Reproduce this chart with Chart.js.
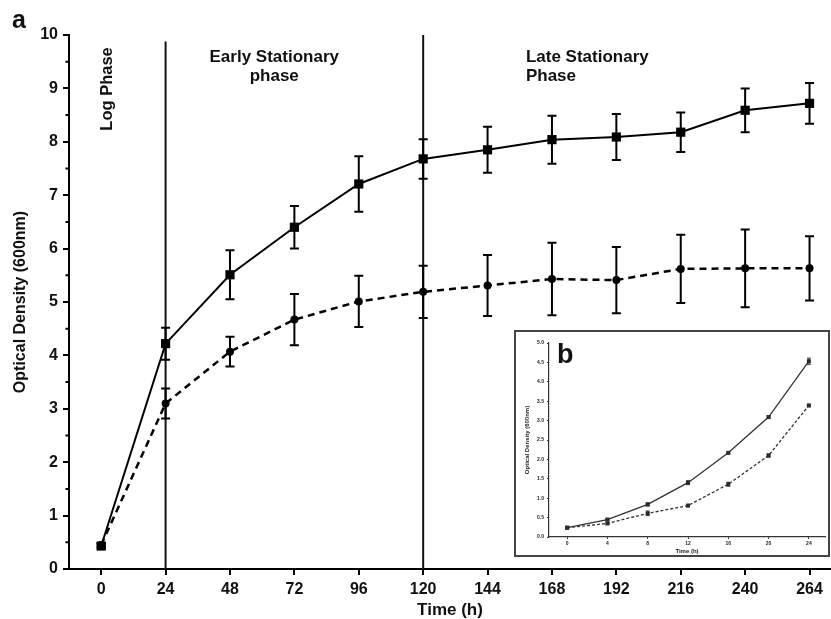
<!DOCTYPE html>
<html>
<head>
<meta charset="utf-8">
<script src="https://cdn.jsdelivr.net/npm/chart.js@4.4.1/dist/chart.umd.min.js"></script>
<style>
  html, body { margin: 0; padding: 0; background: #fff; }
  #wrap { position: relative; width: 831px; height: 619px; }
  #inset { position: absolute; left: 514px; top: 330px; width: 312px; height: 223px;
           border: 2px solid #444; background: #fff; }
  canvas { display: block; }
</style>
</head>
<body>
<div id="wrap">
  <canvas id="mainChart" width="831" height="619"></canvas>
  <div id="inset"><canvas id="insetChart" width="312" height="223"></canvas></div>
</div>
<script>
// main panel (a)
var hours = [0, 24, 48, 72, 96, 120, 144, 168, 192, 216, 240, 264];
var solidOD = [0.43, 4.22, 5.51, 6.40, 7.21, 7.68, 7.85, 8.04, 8.09, 8.18, 8.59, 8.72];
var solidErr = [0.04, 0.30, 0.46, 0.40, 0.52, 0.37, 0.43, 0.45, 0.43, 0.37, 0.41, 0.38];
var dashedOD = [0.45, 3.10, 4.07, 4.67, 5.01, 5.19, 5.31, 5.43, 5.41, 5.62, 5.63, 5.63];
var dashedErr = [0.03, 0.28, 0.28, 0.48, 0.48, 0.49, 0.57, 0.68, 0.62, 0.64, 0.73, 0.60];
var phaseLines = [24, 120];
var phaseTops = [9.88, 10];
var xTicks = [0, 24, 48, 72, 96, 120, 144, 168, 192, 216, 240, 264];
var yTicks = [0, 1, 2, 3, 4, 5, 6, 7, 8, 9, 10];

// inset panel (b)
var insetHours = [0, 4, 8, 12, 16, 20, 24];
var insetSolid = [0.24, 0.45, 0.84, 1.40, 2.17, 3.09, 4.53];
var insetSolidErr = [0.02, 0.03, 0.04, 0.05, 0.03, 0.03, 0.08];
var insetDashed = [0.24, 0.35, 0.61, 0.81, 1.36, 2.10, 3.39];
var insetDashedErr = [0.02, 0.03, 0.06, 0.03, 0.05, 0.04, 0.03];
var insetXTicks = [0, 4, 8, 12, 16, 20, 24];
var insetYTicks = [0, 0.5, 1, 1.5, 2, 2.5, 3, 3.5, 4, 4.5, 5];

var FONT = "'Liberation Sans', Arial, sans-serif";

function pts(xs, ys) {
    return xs.map(function (x, i) { return { x: x, y: ys[i] }; });
}

var errorBars = {
    id: 'errorBars',
    afterDatasetsDraw: function (chart) {
        var ctx = chart.ctx, sx = chart.scales.x, sy = chart.scales.y;
        chart.data.datasets.forEach(function (ds) {
            if (!ds.errors) return;
            var c = ds.capWidth / 2;
            ctx.save();
            ctx.strokeStyle = ds.borderColor;
            ctx.lineWidth = ds.errorWidth;
            ctx.beginPath();
            ds.data.forEach(function (p, j) {
                var e = ds.errors[j];
                var px = sx.getPixelForValue(p.x);
                var top = sy.getPixelForValue(p.y + e);
                var bot = sy.getPixelForValue(p.y - e);
                ctx.moveTo(px, top); ctx.lineTo(px, bot);
                ctx.moveTo(px - c, top); ctx.lineTo(px + c, top);
                ctx.moveTo(px - c, bot); ctx.lineTo(px + c, bot);
            });
            ctx.stroke();
            ctx.restore();
        });
    }
};

var minorTicks = {
    id: 'minorTicks',
    afterDraw: function (chart, args, opts) {
        if (!opts.step) return;
        var sy = chart.scales.y, ctx = chart.ctx;
        ctx.save();
        ctx.strokeStyle = opts.color;
        ctx.lineWidth = opts.width;
        ctx.beginPath();
        for (var v = sy.min + opts.step; v < sy.max; v += opts.step * 2) {
            var py = sy.getPixelForValue(v);
            ctx.moveTo(sy.right - opts.length, py);
            ctx.lineTo(sy.right, py);
        }
        ctx.stroke();
        ctx.restore();
    }
};

var textLabels = {
    id: 'textLabels',
    afterDraw: function (chart, args, opts) {
        var ctx = chart.ctx, sx = chart.scales.x, sy = chart.scales.y;
        (opts.items || []).forEach(function (it) {
            ctx.save();
            ctx.fillStyle = '#111';
            ctx.font = it.font;
            ctx.textAlign = it.align || 'left';
            ctx.textBaseline = it.baseline || 'alphabetic';
            var px = it.px != null ? it.px : sx.getPixelForValue(it.x);
            var py = it.py != null ? it.py : sy.getPixelForValue(it.y);
            ctx.translate(px, py);
            if (it.rotate) ctx.rotate(it.rotate);
            ctx.fillText(it.text, 0, 0);
            ctx.restore();
        });
    }
};

var mainDatasets = [
    {
        data: pts(hours, solidOD),
        errors: solidErr, capWidth: 9, errorWidth: 2,
        borderColor: '#000', backgroundColor: '#000', borderWidth: 2,
        pointStyle: 'rect', pointRadius: 6.5, pointBorderWidth: 0
    },
    {
        data: pts(hours, dashedOD),
        errors: dashedErr, capWidth: 9, errorWidth: 2,
        borderColor: '#000', backgroundColor: '#000', borderWidth: 2.5,
        borderDash: [7, 5],
        pointStyle: 'circle', pointRadius: 4, pointBorderWidth: 0
    }
];
phaseLines.forEach(function (h, i) {
    mainDatasets.push({
        data: [{ x: h, y: 0 }, { x: h, y: phaseTops[i] }],
        borderColor: '#111', borderWidth: 2, pointRadius: 0
    });
});

new Chart(document.getElementById('mainChart').getContext('2d'), {
    type: 'line',
    data: { datasets: mainDatasets },
    plugins: [errorBars, minorTicks, textLabels],
    options: {
        responsive: false,
        animation: false,
        devicePixelRatio: 1,
        layout: { autoPadding: false, padding: { top: 35, right: 0, left: 0, bottom: 0 } },
        plugins: {
            legend: { display: false },
            tooltip: { enabled: false },
            minorTicks: { step: 0.5, length: 3.5, color: '#000', width: 2 },
            textLabels: {
                items: [
                    { text: 'Log Phase', x: 2.4, y: 8.99, align: 'center', baseline: 'middle',
                      rotate: -Math.PI / 2, font: 'bold 16.5px ' + FONT },
                    { text: 'Early Stationary', x: 64.5, y: 9.5, align: 'center', font: 'bold 17px ' + FONT },
                    { text: 'phase', x: 64.5, y: 9.14, align: 'center', font: 'bold 17px ' + FONT },
                    { text: 'Late Stationary', x: 158.3, y: 9.5, align: 'left', font: 'bold 17px ' + FONT },
                    { text: 'Phase', x: 158.3, y: 9.14, align: 'left', font: 'bold 17px ' + FONT },
                    { text: 'a', px: 12, py: 28, align: 'left', font: 'bold 25px ' + FONT }
                ]
            }
        },
        scales: {
            x: {
                type: 'linear',
                min: -12, max: 272,
                afterBuildTicks: function (s) { s.ticks = xTicks.map(function (v) { return { value: v }; }); },
                afterFit: function (s) { s.height = 50; s.paddingLeft = 0; s.paddingRight = 0; },
                grid: { drawOnChartArea: false, drawTicks: true, tickLength: 6, color: '#000', lineWidth: 2 },
                border: { color: '#000', width: 2 },
                ticks: { color: '#111', padding: 5, font: { family: FONT, size: 16, weight: 'bold' }, maxRotation: 0 },
                title: { display: true, text: 'Time (h)', color: '#111', padding: { top: 0, bottom: 0 },
                         font: { family: FONT, size: 17, weight: 'bold', lineHeight: 1 } }
            },
            y: {
                type: 'linear',
                min: 0, max: 10,
                afterBuildTicks: function (s) { s.ticks = yTicks.map(function (v) { return { value: v }; }); },
                afterFit: function (s) { s.width = 69; },
                grid: { drawOnChartArea: false, drawTicks: true, tickLength: 6, color: '#000', lineWidth: 2 },
                border: { color: '#000', width: 2 },
                ticks: { color: '#111', padding: 5, font: { family: FONT, size: 16, weight: 'bold' } },
                title: { display: true, text: 'Optical Density (600nm)', color: '#111', padding: { top: 13, bottom: 0 },
                         font: { family: FONT, size: 16, weight: 'bold', lineHeight: 1 } }
            }
        }
    }
});

new Chart(document.getElementById('insetChart').getContext('2d'), {
    type: 'line',
    data: {
        datasets: [
            {
                data: pts(insetHours, insetSolid),
                errors: insetSolidErr, capWidth: 4, errorWidth: 1,
                borderColor: '#333', backgroundColor: '#222', borderWidth: 1.3,
                pointStyle: 'rect', pointRadius: 2.8, pointBorderWidth: 0
            },
            {
                data: pts(insetHours, insetDashed),
                errors: insetDashedErr, capWidth: 4, errorWidth: 1,
                borderColor: '#333', backgroundColor: '#222', borderWidth: 1.3,
                borderDash: [3, 2],
                pointStyle: 'rect', pointRadius: 2.8, pointBorderWidth: 0
            }
        ]
    },
    plugins: [errorBars, textLabels],
    options: {
        responsive: false,
        animation: false,
        devicePixelRatio: 1,
        layout: { autoPadding: false, padding: { top: 11, right: 3, left: 0, bottom: 0 } },
        plugins: {
            legend: { display: false },
            tooltip: { enabled: false },
            textLabels: {
                items: [
                    { text: 'b', px: 41, py: 31, align: 'left', font: 'bold 27px ' + FONT }
                ]
            }
        },
        scales: {
            x: {
                type: 'linear',
                min: -1.8, max: 25.6,
                afterBuildTicks: function (s) { s.ticks = insetXTicks.map(function (v) { return { value: v }; }); },
                afterFit: function (s) { s.height = 18; s.paddingLeft = 0; s.paddingRight = 0; },
                grid: { drawOnChartArea: false, drawTicks: true, tickLength: 2, color: '#333', lineWidth: 1 },
                border: { color: '#333', width: 1.2 },
                ticks: { color: '#222', padding: 2, font: { family: FONT, size: 5, weight: 'bold' }, maxRotation: 0 },
                title: { display: true, text: 'Time (h)', color: '#222', padding: { top: 0, bottom: 1 },
                         font: { family: FONT, size: 6, weight: 'bold', lineHeight: 1 } }
            },
            y: {
                type: 'linear',
                min: 0, max: 5,
                afterBuildTicks: function (s) { s.ticks = insetYTicks.map(function (v) { return { value: v }; }); },
                afterFit: function (s) { s.width = 33; },
                grid: { drawOnChartArea: false, drawTicks: true, tickLength: 2, color: '#333', lineWidth: 1 },
                border: { color: '#333', width: 1.2 },
                ticks: { color: '#222', padding: 3, font: { family: FONT, size: 5, weight: 'bold' },
                         callback: function (v) { return v.toFixed(1); } },
                title: { display: true, text: 'Optical Density (600nm)', color: '#222', padding: { top: 8, bottom: 0 },
                         font: { family: FONT, size: 6, weight: 'bold', lineHeight: 1 } }
            }
        }
    }
});
</script>
</body>
</html>
